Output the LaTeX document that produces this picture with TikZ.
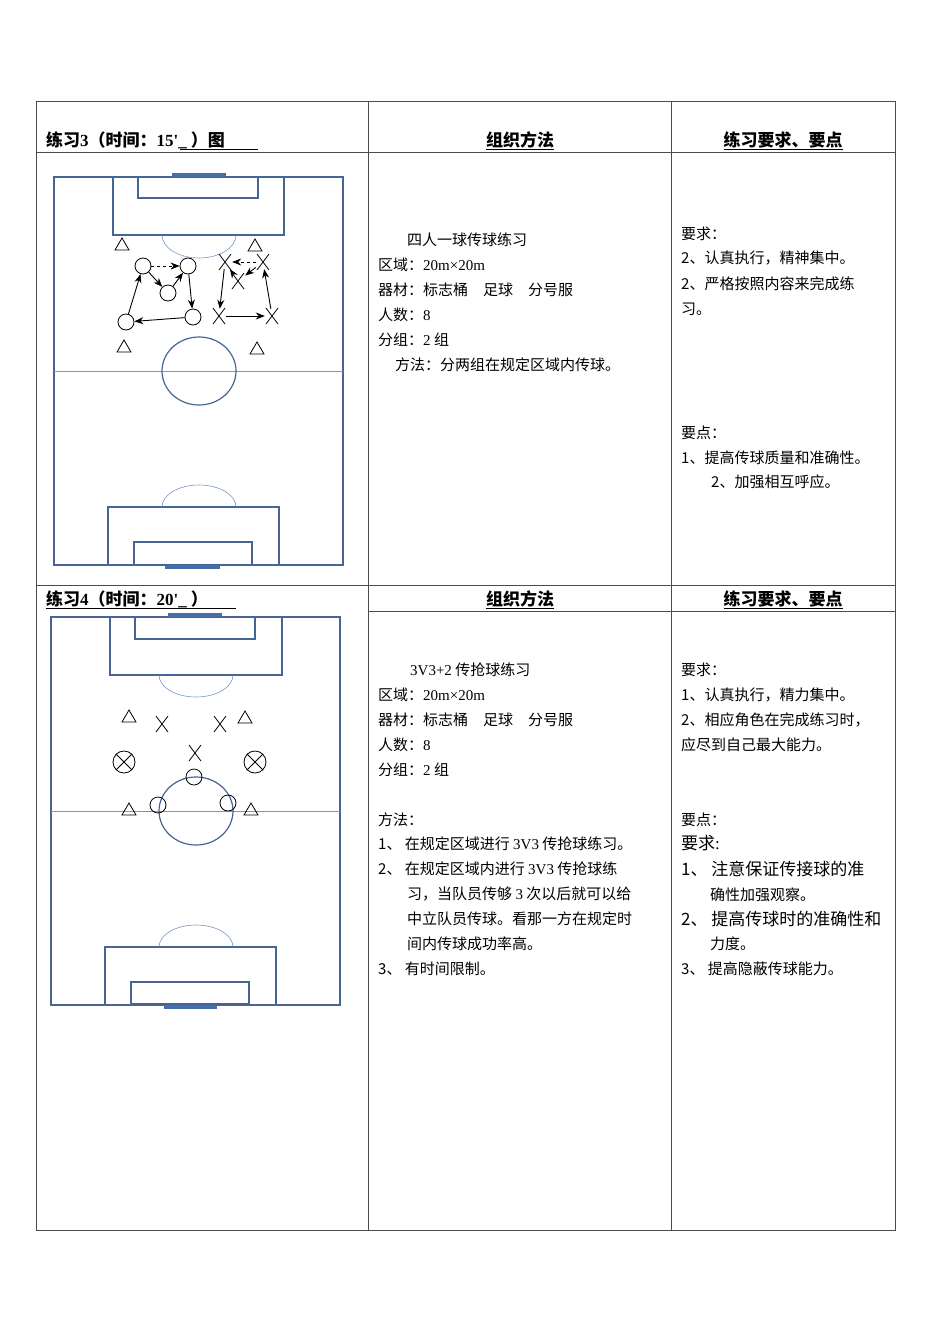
\documentclass[tikz,border=0pt]{standalone}
\usepackage{fontspec}
\setmainfont{Liberation Serif}
\newfontfamily\cjk{Noto Sans CJK SC}
\newfontfamily\lat{Liberation Serif}
\usetikzlibrary{arrows.meta}
\definecolor{fieldc}{RGB}{70,100,150}
\definecolor{arcc}{RGB}{120,150,200}
\definecolor{barc}{RGB}{70,110,170}
\begin{document}
\begin{tikzpicture}[x=1pt,y=-1pt,
  fl/.style={draw=fieldc, line width=1.2pt},
  thin/.style={draw=arcc, line width=0.6pt},
  goalbar/.style={fill=barc, draw=none},
  grid/.style={draw=black!70, line width=0.7pt},
  tx/.style={anchor=base west, inner sep=0pt, font=\cjk\fontsize{15}{17}\selectfont},
  txb/.style={anchor=base west, inner sep=0pt, font=\cjk\fontsize{17}{19}\selectfont},
  hd/.style={anchor=base, inner sep=0pt, font=\cjk\bfseries\fontsize{17}{19}\selectfont},
  pl/.style={draw, circle, minimum size=16pt, inner sep=0pt, line width=0.8pt},
  arr/.style={-{Stealth[length=9pt,width=7pt]}, line width=0.9pt},
  darr/.style={arr, dashed}]
\useasboundingbox (0,0) rectangle (950,1344);
% table grid
\draw[grid] (36,101) rectangle (895,1230);
\draw[grid] (368,101) -- (368,1230) (671,101) -- (671,1230);
\draw[grid] (36,152) -- (895,152) (36,585) -- (895,585) (368,611) -- (895,611);
% headers
\node[hd, anchor=base west] (h1) at (46,146) {练习{\lat\bfseries 3}（时间：{\lat\bfseries 15'\_} ）图};
\draw[line width=0.8pt] (180,149) -- (258,149);
\node[hd] (h2) at (520,146) {\underline{组织方法}};
\node[hd] (h3) at (783,146) {\underline{练习要求、要点}};
\node[hd, anchor=base west] (h4) at (46,605) {练习{\lat\bfseries 4}（时间：{\lat\bfseries 20'\_} ）};
\draw[line width=0.8pt] (46,608) -- (236,608);
\node[hd] (h5) at (520,605) {\underline{组织方法}};
\node[hd] (h6) at (783,605) {\underline{练习要求、要点}};

% ===== Field 1 =====
\draw[fl] (54,177) rectangle (343,565);
\draw[fl] (113,177) rectangle (284,235);
\draw[fl] (138,177) rectangle (258,198);
\fill[goalbar] (172,173) rectangle (226,177);
\draw[thin] (162,235) arc[start angle=180,end angle=0,x radius=37,y radius=23];
\draw[thin] (54,371) -- (343,371);
\draw[fl] (199,371) ellipse[x radius=37,y radius=34];
\draw[fl] (108,507) rectangle (279,565);
\draw[fl] (134,542) rectangle (252,565);
\fill[goalbar] (165,565) rectangle (220,569);
\draw[thin] (162,507) arc[start angle=180,end angle=360,x radius=37,y radius=22];
% players
\node[pl] (A) at (143,266) {};
\node[pl] (B) at (188,266) {};
\node[pl] (C) at (168,293) {};
\node[pl] (D) at (126,322) {};
\node[pl] (E) at (193,317) {};
\foreach \n/\x/\y in {X1/225/262,X2/263/262,X3/238/281,X4/219/316,X5/272/316}{
  \node[inner sep=0pt, minimum size=14pt] (\n) at (\x,\y) {};
  \draw[line width=0.8pt] (\x-6,\y-8) -- (\x+6,\y+8) (\x+6,\y-8) -- (\x-6,\y+8);
}
\foreach \n/\x/\y in {T1/122/244,T2/255/245,T3/124/346,T4/257/348}{
  \coordinate (\n) at (\x,\y);
  \draw[line width=0.8pt] (\x-7,\y+6) -- (\x,\y-6) -- (\x+7,\y+6) -- cycle;
}
\draw[darr] (A) -- (B);
\draw[arr] (A) -- (C);
\draw[arr] (C) -- (B);
\draw[arr] (B) -- (E);
\draw[arr] (E) -- (D);
\draw[arr] (D) -- (A);
\draw[darr] (X2) -- (X1);
\draw[arr] (X1) -- (X4);
\draw[arr] (X4) -- (X5);
\draw[arr] (X5) -- (X2);
\draw[arr] (X2) -- (X3);
\draw[arr] (X3) -- (X1);
% text col 2
\node[tx] (t1) at (407,245) {四人一球传球练习};
\node[tx] (t2) at (378,270) {区域：{\lat 20m×20m}};
\node[tx] (t3) at (378,295) {器材：标志桶\quad 足球\quad 分号服};
\node[tx] (t4) at (378,320) {人数：{\lat 8}};
\node[tx] (t5) at (378,345) {分组：{\lat 2} 组};
\node[tx] (t6) at (395,370) {方法：分两组在规定区域内传球。};
% col 3
\node[tx] (r1) at (681,239) {要求：};
\node[tx] (r2) at (681,263) {2、认真执行，精神集中。};
\node[tx] (r3) at (681,289) {2、严格按照内容来完成练};
\node[tx] (r4) at (681,314) {习。};
\node[tx] (r5) at (681,438) {要点：};
\node[tx] (r6) at (681,463) {1、提高传球质量和准确性。};
\node[tx] (r7) at (711,487) {2、加强相互呼应。};

% ===== Field 2 =====
\draw[fl] (51,617) rectangle (340,1005);
\draw[fl] (110,617) rectangle (282,675);
\draw[fl] (135,617) rectangle (255,639);
\fill[goalbar] (168,613) rectangle (222,617);
\draw[thin] (159,675) arc[start angle=180,end angle=0,x radius=37,y radius=22];
\draw[thin] (51,811) -- (340,811);
\draw[fl] (196,811) ellipse[x radius=37,y radius=34];
\draw[fl] (105,947) rectangle (276,1005);
\draw[fl] (131,982) rectangle (249,1004);
\fill[goalbar] (164,1005) rectangle (217,1009);
\draw[thin] (159,947) arc[start angle=180,end angle=360,x radius=37,y radius=22];
\foreach \n/\x/\y in {U1/129/716,U2/245/717,U3/129/809,U4/251/809}{
  \coordinate (\n) at (\x,\y);
  \draw[line width=0.8pt] (\x-7,\y+6) -- (\x,\y-6) -- (\x+7,\y+6) -- cycle;
}
\foreach \n/\x/\y in {Y1/162/724,Y2/220/724,Y3/195/753}{
  \coordinate (\n) at (\x,\y);
  \draw[line width=0.8pt] (\x-6,\y-8) -- (\x+6,\y+8) (\x+6,\y-8) -- (\x-6,\y+8);
}
\foreach \n/\x/\y in {Z1/124/762,Z2/255/762}{
  \node[pl, minimum size=22pt] (\n) at (\x,\y) {};
  \draw[line width=0.8pt] (\n.north west) -- (\n.south east) (\n.north east) -- (\n.south west);
}
\node[pl] (P1) at (194,777) {};
\node[pl] (P2) at (158,805) {};
\node[pl] (P3) at (228,803) {};
% text col 2
\node[tx] (s1) at (410,675) {{\lat 3V3+2} 传抢球练习};
\node[tx] (s2) at (378,700) {区域：{\lat 20m×20m}};
\node[tx] (s3) at (378,725) {器材：标志桶\quad 足球\quad 分号服};
\node[tx] (s4) at (378,750) {人数：{\lat 8}};
\node[tx] (s5) at (378,775) {分组：{\lat 2} 组};
\node[tx] (s6) at (378,825) {方法：};
\node[tx] (s7) at (378,849) {1、\ 在规定区域进行 {\lat 3V3} 传抢球练习。};
\node[tx] (s8) at (378,874) {2、\ 在规定区域内进行 {\lat 3V3} 传抢球练};
\node[tx] (s9) at (407,899) {习，当队员传够 {\lat 3} 次以后就可以给};
\node[tx] (s10) at (407,924) {中立队员传球。看那一方在规定时};
\node[tx] (s11) at (407,949) {间内传球成功率高。};
\node[tx] (s12) at (378,974) {3、\ 有时间限制。};
% col 3
\node[tx] (q1) at (681,675) {要求：};
\node[tx] (q2) at (681,700) {1、认真执行，精力集中。};
\node[tx] (q3) at (681,725) {2、相应角色在完成练习时，};
\node[tx] (q4) at (681,750) {应尽到自己最大能力。};
\node[tx] (q5) at (681,825) {要点：};
\node[txb] (q6) at (681,849) {要求{\lat :}};
\node[txb] (q7) at (681,875) {1、\ 注意保证传接球的准};
\node[tx] (q8) at (710,900) {确性加强观察。};
\node[txb] (q9) at (681,925) {2、\ 提高传球时的准确性和};
\node[tx] (q10) at (710,949) {力度。};
\node[tx] (q11) at (681,974) {3、\ 提高隐蔽传球能力。};
\end{tikzpicture}
\end{document}
